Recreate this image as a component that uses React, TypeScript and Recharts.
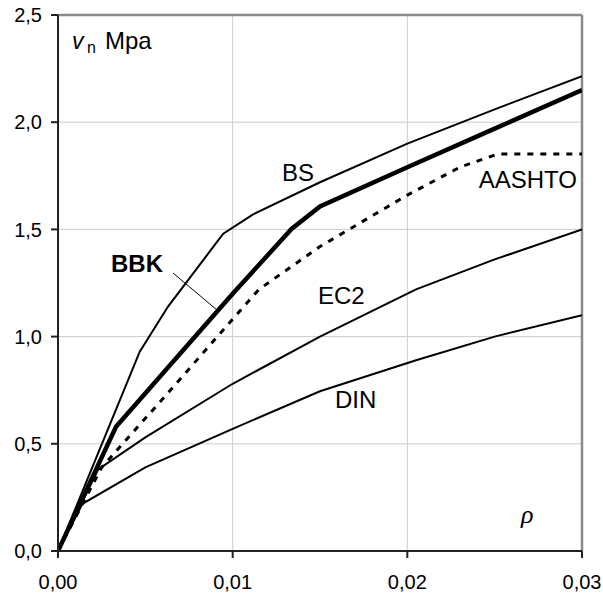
import { CartesianGrid, Line, LineChart, ReferenceLine, XAxis, YAxis } from "recharts"

// Skjuvhållfasthet v_n (MPa) mot armeringsinnehåll ρ, enligt olika normer.
const X_TICKS = [0, 0.01, 0.02, 0.03]
const Y_TICKS = [0, 0.5, 1.0, 1.5, 2.0, 2.5]

const BS = [
  { x: 0, y: 0 },
  { x: 0.00468, y: 0.93 },
  { x: 0.0063, y: 1.14 },
  { x: 0.00946, y: 1.48 },
  { x: 0.01117, y: 1.57 },
  { x: 0.015, y: 1.72 },
  { x: 0.02, y: 1.9 },
  { x: 0.025, y: 2.06 },
  { x: 0.03, y: 2.215 },
]

const BBK = [
  { x: 0, y: 0 },
  { x: 0.00332, y: 0.579 },
  { x: 0.01, y: 1.2 },
  { x: 0.01337, y: 1.502 },
  { x: 0.015, y: 1.607 },
  { x: 0.02, y: 1.79 },
  { x: 0.025, y: 1.97 },
  { x: 0.03, y: 2.15 },
]

const AASHTO = [
  { x: 0, y: 0 },
  { x: 0.0025, y: 0.39 },
  { x: 0.006, y: 0.71 },
  { x: 0.0115, y: 1.22 },
  { x: 0.015, y: 1.42 },
  { x: 0.02, y: 1.66 },
  { x: 0.023, y: 1.79 },
  { x: 0.0252, y: 1.852 },
  { x: 0.03, y: 1.852 },
]

const EC2 = [
  { x: 0, y: 0 },
  { x: 0.0023, y: 0.38 },
  { x: 0.005, y: 0.53 },
  { x: 0.01, y: 0.78 },
  { x: 0.015, y: 1.0 },
  { x: 0.0205, y: 1.22 },
  { x: 0.025, y: 1.36 },
  { x: 0.03, y: 1.5 },
]

const DIN = [
  { x: 0, y: 0 },
  { x: 0.0014, y: 0.22 },
  { x: 0.005, y: 0.39 },
  { x: 0.01, y: 0.57 },
  { x: 0.015, y: 0.745 },
  { x: 0.0205, y: 0.89 },
  { x: 0.025, y: 1.0 },
  { x: 0.03, y: 1.1 },
]

const FONT = "'Liberation Sans', Arial, sans-serif"
const TICK = { fill: "#000", fontSize: 20, fontFamily: FONT }
const AXIS_LINE = { stroke: "#222", strokeWidth: 2 }
const BORDER = "#8a8a8a"

const fmtX = (v: number) => v.toFixed(2).replace(".", ",")
const fmtY = (v: number) => v.toFixed(1).replace(".", ",")

export default function App() {
  return (
    <div style={{ position: "absolute", left: 0, top: 0, width: 603, height: 596 }}>
      <LineChart
        width={603}
        height={596}
        margin={{ top: 15, right: 21, bottom: 0, left: 0 }}
      >
        <CartesianGrid stroke="#cccccc" strokeWidth={1} />
        <XAxis
          type="number"
          dataKey="x"
          domain={[0, 0.03]}
          ticks={X_TICKS}
          tickFormatter={fmtX}
          tick={TICK}
          tickSize={7}
          tickMargin={17}
          height={45}
          axisLine={AXIS_LINE}
          tickLine={AXIS_LINE}
          allowDataOverflow
        />
        <YAxis
          type="number"
          domain={[0, 2.5]}
          ticks={Y_TICKS}
          tickFormatter={fmtY}
          tick={TICK}
          tickSize={7}
          tickMargin={9}
          width={58}
          axisLine={AXIS_LINE}
          tickLine={AXIS_LINE}
          allowDataOverflow
        />
        <ReferenceLine y={2.5} stroke={BORDER} strokeWidth={2.5} />
        <ReferenceLine x={0.03} stroke={BORDER} strokeWidth={2.5} />
        <Line data={DIN} dataKey="y" type="linear" stroke="#000" strokeWidth={2} dot={false} isAnimationActive={false} />
        <Line data={EC2} dataKey="y" type="linear" stroke="#000" strokeWidth={2} dot={false} isAnimationActive={false} />
        <Line
          data={AASHTO}
          dataKey="y"
          type="linear"
          stroke="#000"
          strokeWidth={3}
          strokeDasharray="6 7"
          dot={false}
          isAnimationActive={false}
        />
        <Line data={BS} dataKey="y" type="linear" stroke="#000" strokeWidth={2} dot={false} isAnimationActive={false} />
        <Line data={BBK} dataKey="y" type="linear" stroke="#000" strokeWidth={4.5} dot={false} isAnimationActive={false} />
      </LineChart>
      <svg
        width={603}
        height={596}
        style={{ position: "absolute", left: 0, top: 0, pointerEvents: "none" }}
        fontFamily={FONT}
        fontSize={24}
        fill="#000"
      >
        <text x={72} y={49} fontStyle="italic" fontSize={23}>v</text>
        <text x={87} y={53} fontSize={16}>n</text>
        <text x={105} y={49}>Mpa</text>
        <text x={282} y={181}>BS</text>
        <text x={111} y={272} fontWeight="bold">BBK</text>
        <line x1={173} y1={273} x2={217} y2={310} stroke="#000" strokeWidth={1} />
        <text x={577} y={188} textAnchor="end">AASHTO</text>
        <text x={318} y={304}>EC2</text>
        <text x={335} y={408}>DIN</text>
        <text x={521} y={523} fontStyle="italic" fontSize={26} fontFamily="'Liberation Serif', 'Times New Roman', serif">ρ</text>
      </svg>
    </div>
  )
}
